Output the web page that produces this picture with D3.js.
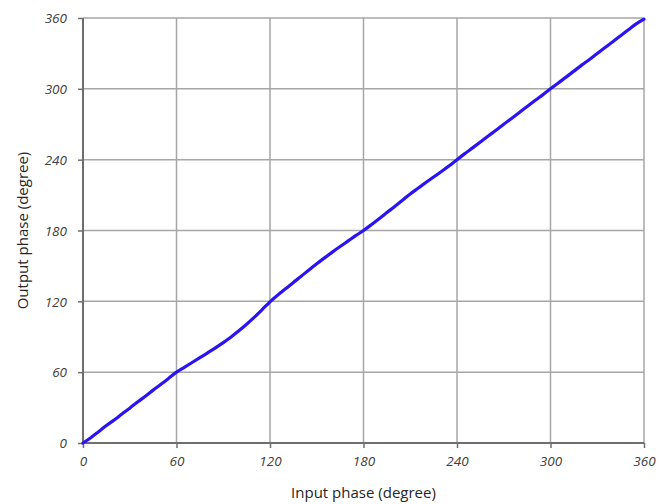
<!DOCTYPE html>
<html>
<head>
<meta charset="utf-8">
<script src="https://cdn.jsdelivr.net/npm/d3@7"></script>
<style>
  html, body { margin: 0; padding: 0; background: #fff; }
  svg { display: block; }
</style>
</head>
<body>
<svg id="chart" width="672" height="504"></svg>
<script>
const xTicks = [0, 60, 120, 180, 240, 300, 360];
const yTicks = [0, 60, 120, 180, 240, 300, 360];
const inputPhase = [0,5,10,15,20,25,30,35,40,45,50,55,60,65,70,75,80,85,90,95,100,105,110,115,120,125,130,135,140,145,150,155,160,165,170,175,180,185,190,195,200,205,210,215,220,225,230,235,240,245,250,255,260,265,270,275,280,285,290,295,300,305,310,315,320,325,330,335,340,345,350,355,360];
const outputPhase = [0,4.5,9.6,14.8,19.5,24.6,29.5,34.7,39.6,44.8,49.7,54.8,60.0,64.1,68.2,72.3,76.4,80.6,85.0,89.8,95.0,100.6,106.6,113.0,119.6,125.3,130.6,136.0,141.2,146.6,151.8,156.8,161.7,166.4,171.0,175.6,180.0,184.9,190.0,195.2,200.3,205.6,211.0,215.8,220.6,225.3,230.0,234.8,240.0,245.1,250.0,255.0,260.1,264.9,270.0,274.9,279.9,285.0,290.1,294.9,300.0,305.0,309.9,315.0,320.1,324.9,330.0,335.0,339.9,345.0,350.0,355.0,359.0];
const xTitle = "Input phase (degree)";
const yTitle = "Output phase (degree)";

const svg = d3.select("#chart");
const L = 83, R = 644, T = 18, B = 443;
const x = d3.scaleLinear().domain([0, 360]).range([L, R]);
const y = d3.scaleLinear().domain([0, 360]).range([B, T]);

// gridlines
const grid = svg.append("g");
grid.selectAll("line.v").data(xTicks).join("line")
  .attr("x1", d => x(d)).attr("x2", d => x(d))
  .attr("y1", T).attr("y2", B)
  .attr("stroke", "#a6a6a6").attr("stroke-width", 1.5);
grid.selectAll("line.h").data(yTicks).join("line")
  .attr("y1", d => y(d)).attr("y2", d => y(d))
  .attr("x1", L).attr("x2", R)
  .attr("stroke", "#a6a6a6").attr("stroke-width", 1.5);

// axes
const fontTick = "'Open Sans', 'Noto Sans', sans-serif";
const xAxis = d3.axisBottom(x).tickValues(xTicks).tickSize(5).tickPadding(8).tickFormat(d3.format("d"));
const yAxis = d3.axisLeft(y).tickValues(yTicks).tickSize(5).tickPadding(11).tickFormat(d3.format("d"));

const gx = svg.append("g").attr("transform", `translate(0,${B})`).call(xAxis);
const gy = svg.append("g").attr("transform", `translate(${L},0)`).call(yAxis);
[gx, gy].forEach(g => {
  g.select(".domain").attr("stroke", "#6e6e6e").attr("stroke-width", 2);
  g.selectAll(".tick line").attr("stroke", "#6e6e6e").attr("stroke-width", 1.5);
  g.selectAll(".tick text")
    .attr("fill", "#404040")
    .style("font-family", fontTick)
    .style("font-style", "italic")
    .style("font-size", "13.5px");
});
gx.select(".domain").attr("d", `M${L},0H${R}`);
gy.select(".domain").attr("d", `M0,${B}V${T}`);
gy.selectAll(".tick text").attr("dy", "0.35em");

// line
const pts = inputPhase.map((d, i) => [d, outputPhase[i]]);
svg.append("path")
  .datum(pts)
  .attr("fill", "none")
  .attr("stroke", "#2a14f2")
  .attr("stroke-width", 3.2)
  .attr("stroke-linejoin", "round")
  .attr("stroke-linecap", "round")
  .attr("d", d3.line().curve(d3.curveMonotoneX).x(d => x(d[0])).y(d => y(d[1])));

// titles
svg.append("text")
  .attr("x", (L + R) / 2).attr("y", 498)
  .attr("text-anchor", "middle")
  .attr("fill", "#262626")
  .style("font-family", fontTick)
  .style("font-size", "15px")
  .text(xTitle);
svg.append("text")
  .attr("transform", `translate(28,${(T + B) / 2}) rotate(-90)`)
  .attr("text-anchor", "middle")
  .attr("fill", "#262626")
  .style("font-family", fontTick)
  .style("font-size", "15px")
  .text(yTitle);
</script>
</body>
</html>
